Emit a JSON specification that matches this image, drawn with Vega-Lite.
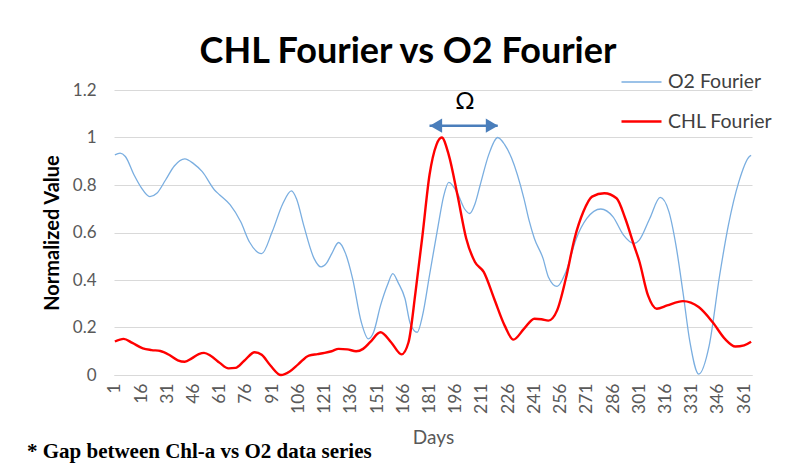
{
  "$schema": "https://vega.github.io/schema/vega-lite/v6.json",
  "width": 638,
  "height": 285,
  "autosize": "none",
  "padding": {"left": 114, "top": 90, "right": 45, "bottom": 101},
  "background": "white",
  "config": {"view": {"stroke": null}, "font": "Lato"},
  "title": {"text": "CHL Fourier vs O2 Fourier", "font": "Lato", "fontSize": 36, "fontWeight": "bold", "color": "black", "anchor": "middle", "dx": -25, "offset": -10},
  "datasets": {
    "series": [
      {"day": 1, "value": 0.927, "series": "O2 Fourier"},
      {"day": 4, "value": 0.934, "series": "O2 Fourier"},
      {"day": 7, "value": 0.92, "series": "O2 Fourier"},
      {"day": 12, "value": 0.842, "series": "O2 Fourier"},
      {"day": 16, "value": 0.79, "series": "O2 Fourier"},
      {"day": 21, "value": 0.751, "series": "O2 Fourier"},
      {"day": 25, "value": 0.765, "series": "O2 Fourier"},
      {"day": 30, "value": 0.821, "series": "O2 Fourier"},
      {"day": 35, "value": 0.88, "series": "O2 Fourier"},
      {"day": 41, "value": 0.91, "series": "O2 Fourier"},
      {"day": 46, "value": 0.89, "series": "O2 Fourier"},
      {"day": 51, "value": 0.856, "series": "O2 Fourier"},
      {"day": 58, "value": 0.779, "series": "O2 Fourier"},
      {"day": 61, "value": 0.758, "series": "O2 Fourier"},
      {"day": 67, "value": 0.716, "series": "O2 Fourier"},
      {"day": 73, "value": 0.645, "series": "O2 Fourier"},
      {"day": 78, "value": 0.56, "series": "O2 Fourier"},
      {"day": 85, "value": 0.511, "series": "O2 Fourier"},
      {"day": 91, "value": 0.603, "series": "O2 Fourier"},
      {"day": 97, "value": 0.72, "series": "O2 Fourier"},
      {"day": 102, "value": 0.775, "series": "O2 Fourier"},
      {"day": 105, "value": 0.74, "series": "O2 Fourier"},
      {"day": 109, "value": 0.631, "series": "O2 Fourier"},
      {"day": 115, "value": 0.49, "series": "O2 Fourier"},
      {"day": 119, "value": 0.455, "series": "O2 Fourier"},
      {"day": 122, "value": 0.47, "series": "O2 Fourier"},
      {"day": 125, "value": 0.51, "series": "O2 Fourier"},
      {"day": 129, "value": 0.558, "series": "O2 Fourier"},
      {"day": 133, "value": 0.511, "series": "O2 Fourier"},
      {"day": 137, "value": 0.406, "series": "O2 Fourier"},
      {"day": 142, "value": 0.222, "series": "O2 Fourier"},
      {"day": 146, "value": 0.152, "series": "O2 Fourier"},
      {"day": 149, "value": 0.18, "series": "O2 Fourier"},
      {"day": 153, "value": 0.293, "series": "O2 Fourier"},
      {"day": 157, "value": 0.38, "series": "O2 Fourier"},
      {"day": 160, "value": 0.427, "series": "O2 Fourier"},
      {"day": 163, "value": 0.39, "series": "O2 Fourier"},
      {"day": 167, "value": 0.321, "series": "O2 Fourier"},
      {"day": 170, "value": 0.216, "series": "O2 Fourier"},
      {"day": 174, "value": 0.18, "series": "O2 Fourier"},
      {"day": 177, "value": 0.25, "series": "O2 Fourier"},
      {"day": 181, "value": 0.42, "series": "O2 Fourier"},
      {"day": 186, "value": 0.631, "series": "O2 Fourier"},
      {"day": 189, "value": 0.75, "series": "O2 Fourier"},
      {"day": 192, "value": 0.811, "series": "O2 Fourier"},
      {"day": 197, "value": 0.765, "series": "O2 Fourier"},
      {"day": 201, "value": 0.7, "series": "O2 Fourier"},
      {"day": 204, "value": 0.68, "series": "O2 Fourier"},
      {"day": 207, "value": 0.72, "series": "O2 Fourier"},
      {"day": 210, "value": 0.8, "series": "O2 Fourier"},
      {"day": 215, "value": 0.93, "series": "O2 Fourier"},
      {"day": 220, "value": 1.0, "series": "O2 Fourier"},
      {"day": 224, "value": 0.97, "series": "O2 Fourier"},
      {"day": 228, "value": 0.913, "series": "O2 Fourier"},
      {"day": 235, "value": 0.744, "series": "O2 Fourier"},
      {"day": 238, "value": 0.65, "series": "O2 Fourier"},
      {"day": 241, "value": 0.575, "series": "O2 Fourier"},
      {"day": 246, "value": 0.49, "series": "O2 Fourier"},
      {"day": 249, "value": 0.413, "series": "O2 Fourier"},
      {"day": 254, "value": 0.373, "series": "O2 Fourier"},
      {"day": 259, "value": 0.434, "series": "O2 Fourier"},
      {"day": 265, "value": 0.575, "series": "O2 Fourier"},
      {"day": 271, "value": 0.659, "series": "O2 Fourier"},
      {"day": 279, "value": 0.699, "series": "O2 Fourier"},
      {"day": 286, "value": 0.666, "series": "O2 Fourier"},
      {"day": 292, "value": 0.589, "series": "O2 Fourier"},
      {"day": 298, "value": 0.554, "series": "O2 Fourier"},
      {"day": 301, "value": 0.568, "series": "O2 Fourier"},
      {"day": 307, "value": 0.659, "series": "O2 Fourier"},
      {"day": 313, "value": 0.748, "series": "O2 Fourier"},
      {"day": 318, "value": 0.687, "series": "O2 Fourier"},
      {"day": 322, "value": 0.546, "series": "O2 Fourier"},
      {"day": 326, "value": 0.349, "series": "O2 Fourier"},
      {"day": 330, "value": 0.138, "series": "O2 Fourier"},
      {"day": 335, "value": 0.004, "series": "O2 Fourier"},
      {"day": 341, "value": 0.124, "series": "O2 Fourier"},
      {"day": 347, "value": 0.42, "series": "O2 Fourier"},
      {"day": 352, "value": 0.631, "series": "O2 Fourier"},
      {"day": 358, "value": 0.814, "series": "O2 Fourier"},
      {"day": 364, "value": 0.92, "series": "O2 Fourier"},
      {"day": 365, "value": 0.925, "series": "O2 Fourier"},
      {"day": 1, "value": 0.141, "series": "CHL Fourier"},
      {"day": 6, "value": 0.152, "series": "CHL Fourier"},
      {"day": 11, "value": 0.135, "series": "CHL Fourier"},
      {"day": 17, "value": 0.112, "series": "CHL Fourier"},
      {"day": 22, "value": 0.105, "series": "CHL Fourier"},
      {"day": 27, "value": 0.101, "series": "CHL Fourier"},
      {"day": 32, "value": 0.085, "series": "CHL Fourier"},
      {"day": 37, "value": 0.062, "series": "CHL Fourier"},
      {"day": 41, "value": 0.056, "series": "CHL Fourier"},
      {"day": 45, "value": 0.07, "series": "CHL Fourier"},
      {"day": 49, "value": 0.088, "series": "CHL Fourier"},
      {"day": 52, "value": 0.093, "series": "CHL Fourier"},
      {"day": 56, "value": 0.08, "series": "CHL Fourier"},
      {"day": 61, "value": 0.051, "series": "CHL Fourier"},
      {"day": 66, "value": 0.028, "series": "CHL Fourier"},
      {"day": 70, "value": 0.03, "series": "CHL Fourier"},
      {"day": 75, "value": 0.06, "series": "CHL Fourier"},
      {"day": 81, "value": 0.096, "series": "CHL Fourier"},
      {"day": 85, "value": 0.085, "series": "CHL Fourier"},
      {"day": 90, "value": 0.04, "series": "CHL Fourier"},
      {"day": 96, "value": 0.0, "series": "CHL Fourier"},
      {"day": 101, "value": 0.015, "series": "CHL Fourier"},
      {"day": 106, "value": 0.046, "series": "CHL Fourier"},
      {"day": 112, "value": 0.082, "series": "CHL Fourier"},
      {"day": 117, "value": 0.088, "series": "CHL Fourier"},
      {"day": 121, "value": 0.093, "series": "CHL Fourier"},
      {"day": 125, "value": 0.1, "series": "CHL Fourier"},
      {"day": 129, "value": 0.11, "series": "CHL Fourier"},
      {"day": 134, "value": 0.108, "series": "CHL Fourier"},
      {"day": 139, "value": 0.1, "series": "CHL Fourier"},
      {"day": 143, "value": 0.11, "series": "CHL Fourier"},
      {"day": 147, "value": 0.138, "series": "CHL Fourier"},
      {"day": 153, "value": 0.18, "series": "CHL Fourier"},
      {"day": 159, "value": 0.138, "series": "CHL Fourier"},
      {"day": 165, "value": 0.087, "series": "CHL Fourier"},
      {"day": 169, "value": 0.138, "series": "CHL Fourier"},
      {"day": 173, "value": 0.349, "series": "CHL Fourier"},
      {"day": 177, "value": 0.589, "series": "CHL Fourier"},
      {"day": 181, "value": 0.842, "series": "CHL Fourier"},
      {"day": 185, "value": 0.97, "series": "CHL Fourier"},
      {"day": 188, "value": 1.0, "series": "CHL Fourier"},
      {"day": 192, "value": 0.927, "series": "CHL Fourier"},
      {"day": 197, "value": 0.758, "series": "CHL Fourier"},
      {"day": 202, "value": 0.575, "series": "CHL Fourier"},
      {"day": 207, "value": 0.476, "series": "CHL Fourier"},
      {"day": 212, "value": 0.434, "series": "CHL Fourier"},
      {"day": 218, "value": 0.321, "series": "CHL Fourier"},
      {"day": 224, "value": 0.208, "series": "CHL Fourier"},
      {"day": 229, "value": 0.149, "series": "CHL Fourier"},
      {"day": 235, "value": 0.194, "series": "CHL Fourier"},
      {"day": 241, "value": 0.237, "series": "CHL Fourier"},
      {"day": 245, "value": 0.235, "series": "CHL Fourier"},
      {"day": 249, "value": 0.229, "series": "CHL Fourier"},
      {"day": 254, "value": 0.272, "series": "CHL Fourier"},
      {"day": 259, "value": 0.406, "series": "CHL Fourier"},
      {"day": 264, "value": 0.575, "series": "CHL Fourier"},
      {"day": 269, "value": 0.687, "series": "CHL Fourier"},
      {"day": 274, "value": 0.751, "series": "CHL Fourier"},
      {"day": 281, "value": 0.765, "series": "CHL Fourier"},
      {"day": 288, "value": 0.744, "series": "CHL Fourier"},
      {"day": 293, "value": 0.659, "series": "CHL Fourier"},
      {"day": 298, "value": 0.546, "series": "CHL Fourier"},
      {"day": 301, "value": 0.48, "series": "CHL Fourier"},
      {"day": 306, "value": 0.335, "series": "CHL Fourier"},
      {"day": 311, "value": 0.279, "series": "CHL Fourier"},
      {"day": 317, "value": 0.293, "series": "CHL Fourier"},
      {"day": 326, "value": 0.311, "series": "CHL Fourier"},
      {"day": 335, "value": 0.286, "series": "CHL Fourier"},
      {"day": 343, "value": 0.222, "series": "CHL Fourier"},
      {"day": 350, "value": 0.152, "series": "CHL Fourier"},
      {"day": 356, "value": 0.12, "series": "CHL Fourier"},
      {"day": 361, "value": 0.125, "series": "CHL Fourier"},
      {"day": 365, "value": 0.14, "series": "CHL Fourier"}
    ],
    "arrow": [{"start": 181, "end": 220, "level": 1.05}],
    "heads": [
      {"day": 184.7, "level": 1.05, "shape": "triangle-left"},
      {"day": 216.7, "level": 1.05, "shape": "triangle-right"}
    ],
    "omega": [{"day": 201.3, "level": 1.15, "label": "Ω"}],
    "note": [{"day": -49.3, "level": -0.35, "label": "* Gap between Chl-a vs O2 data series"}]
  },
  "encoding": {
    "x": {"field": "day", "type": "quantitative", "scale": {"domain": [0.5, 365.5], "nice": false, "zero": false},
      "axis": {"title": "Days", "values": [1,16,31,46,61,76,91,106,121,136,151,166,181,196,211,226,241,256,271,286,301,316,331,346,361],
        "format": "d", "labelAngle": -90, "labelFont": "Lato", "labelFontSize": 17.5, "labelColor": "#595959", "labelPadding": 8,
        "ticks": false, "grid": false, "domain": true, "domainColor": "#d9d9d9", "domainWidth": 1,
        "titleFont": "Lato", "titleFontSize": 19, "titleFontWeight": "normal", "titleColor": "#595959", "titlePadding": 15, "labelOverlap": false}},
    "y": {"field": "value", "type": "quantitative", "scale": {"domain": [0, 1.2], "nice": false, "zero": false},
      "axis": {"title": "Normalized Value", "values": [0, 0.2, 0.4, 0.6, 0.8, 1, 1.2], "labelExpr": "format(datum.value, '~g')", "labelFont": "Lato", "labelFontSize": 17, "labelColor": "#595959", "labelPadding": 18,
        "ticks": false, "domain": false, "grid": true, "gridColor": "#d9d9d9", "gridWidth": 1,
        "titleFont": "Lato", "titleFontSize": 20, "titleFontWeight": "bold", "titleColor": "black", "titlePadding": 10}}
  },
  "layer": [
    {
      "data": {"name": "series"},
      "mark": {"type": "line", "interpolate": "monotone"},
      "encoding": {
        "color": {"field": "series", "type": "nominal", "scale": {"domain": ["O2 Fourier", "CHL Fourier"], "range": ["#7aaee0", "#ff0000"]},
          "legend": {"title": null, "orient": "none", "legendX": 506, "legendY": -29, "symbolType": "stroke", "symbolSize": 1600, "labelFont": "Lato", "labelFontSize": 19.5, "labelColor": "#404040", "labelOffset": 5, "rowPadding": 8, "padding": 0}},
        "strokeWidth": {"field": "series", "type": "nominal", "scale": {"domain": ["O2 Fourier", "CHL Fourier"], "range": [1.3, 2.4]},
          "legend": {"title": null, "orient": "none", "legendX": 506, "legendY": -29, "symbolType": "stroke", "symbolSize": 1600, "labelFont": "Lato", "labelFontSize": 19.5, "labelColor": "#404040", "labelOffset": 5, "rowPadding": 8, "padding": 0}}
      }
    },
    {
      "data": {"name": "arrow"},
      "mark": {"type": "rule", "color": "#4a7ebb", "strokeWidth": 2.5},
      "encoding": {"x": {"field": "start", "type": "quantitative"}, "x2": {"field": "end"}, "y": {"field": "level", "type": "quantitative"}}
    },
    {
      "data": {"name": "heads"},
      "mark": {"type": "point", "filled": true, "color": "#4a7ebb", "size": 200, "opacity": 1},
      "encoding": {"x": {"field": "day", "type": "quantitative"}, "y": {"field": "level", "type": "quantitative"}, "shape": {"field": "shape", "type": "nominal", "scale": null}}
    },
    {
      "data": {"name": "omega"},
      "mark": {"type": "text", "font": "Lato", "fontSize": 24, "color": "black", "baseline": "middle", "align": "center"},
      "encoding": {"x": {"field": "day", "type": "quantitative"}, "y": {"field": "level", "type": "quantitative"}, "text": {"field": "label"}}
    },
    {
      "data": {"name": "note"},
      "mark": {"type": "text", "font": "Liberation Serif", "fontSize": 21, "fontWeight": "bold", "color": "black", "baseline": "alphabetic", "align": "left"},
      "encoding": {"x": {"field": "day", "type": "quantitative"}, "y": {"field": "level", "type": "quantitative"}, "text": {"field": "label"}}
    }
  ]
}
